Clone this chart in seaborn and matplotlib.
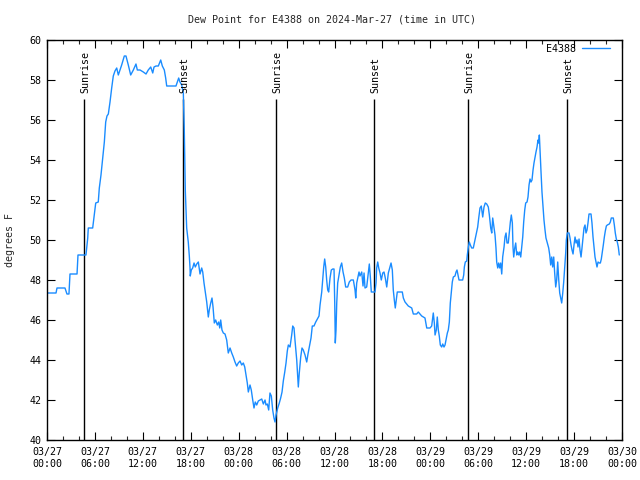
import matplotlib
matplotlib.use("Agg")
import matplotlib.pyplot as plt
import seaborn as sns
import pandas as pd
from matplotlib.ticker import MultipleLocator

# ---- data (hours since 2024-03-27 00:00 UTC, dew point in degrees F) ----
hours = [
    0.00, 1.13, 1.25, 2.25, 2.50, 2.75, 2.88, 3.76, 3.88, 4.88,
    5.10, 5.17, 5.72, 5.92, 6.10, 6.42, 6.55, 6.76, 7.05, 7.18,
    7.35, 7.51, 7.68, 7.89, 8.10, 8.30, 8.51, 8.73, 8.93, 9.35,
    9.68, 9.89, 10.18, 10.48, 10.81, 11.14, 11.31, 11.65, 12.06, 12.40,
    12.68, 12.99, 13.24, 13.40, 13.65, 13.94, 14.24, 14.44, 14.69, 14.86,
    14.99, 16.15, 16.32, 16.49, 16.65, 16.87, 17.07, 17.19, 17.32, 17.49,
    17.69, 17.82, 17.91, 17.94, 18.07, 18.24, 18.41, 18.57, 18.75, 18.95,
    19.16, 19.37, 19.50, 19.66, 19.82, 20.00, 20.20, 20.32, 20.50, 20.66,
    20.79, 20.95, 21.12, 21.33, 21.50, 21.63, 21.75, 21.91, 22.08, 22.29,
    22.50, 22.70, 22.92, 23.13, 23.33, 23.54, 23.75, 23.95, 24.17, 24.38,
    24.58, 24.76, 24.92, 25.08, 25.21, 25.42, 25.58, 25.76, 25.92, 26.08,
    26.26, 26.46, 26.67, 26.89, 27.09, 27.30, 27.42, 27.59, 27.76, 27.92,
    28.09, 28.26, 28.42, 28.55, 28.68, 28.89, 29.09, 29.26, 29.43, 29.59,
    29.77, 29.93, 30.09, 30.22, 30.43, 30.64, 30.77, 30.93, 31.05, 31.27,
    31.47, 31.59, 31.77, 31.93, 32.09, 32.31, 32.52, 32.68, 32.85, 33.06,
    33.22, 33.43, 33.65, 33.85, 34.06, 34.19, 34.40, 34.52, 34.65, 34.77,
    34.90, 35.02, 35.15, 35.27, 35.44, 35.60, 35.78, 35.94, 36.03, 36.10,
    36.19, 36.28, 36.40, 36.56, 36.73, 36.90, 37.07, 37.23, 37.40, 37.65,
    37.85, 38.07, 38.36, 38.57, 38.66, 38.78, 38.91, 39.07, 39.19, 39.41,
    39.57, 39.70, 39.82, 40.03, 40.23, 40.36, 40.48, 40.61, 41.07, 41.20,
    41.28, 41.41, 41.54, 41.70, 41.86, 42.04, 42.20, 42.36, 42.54, 42.74,
    42.95, 43.08, 43.24, 43.36, 43.49, 43.61, 43.74, 43.86, 44.49, 44.62,
    44.83, 45.04, 45.24, 45.45, 45.67, 45.87, 46.29, 46.49, 46.71, 46.92,
    47.33, 47.55, 47.96, 48.17, 48.37, 48.50, 48.59, 48.75, 48.87, 49.00,
    49.12, 49.25, 49.42, 49.55, 49.71, 49.84, 49.96, 50.13, 50.25, 50.38,
    50.50, 50.63, 50.75, 50.88, 51.09, 51.22, 51.34, 51.47, 51.59, 52.05,
    52.18, 52.26, 52.38, 52.56, 52.63, 52.76, 52.88, 53.01, 53.18, 53.38,
    53.51, 53.68, 53.81, 53.93, 54.06, 54.22, 54.38, 54.56, 54.72, 54.88,
    55.06, 55.26, 55.39, 55.56, 55.69, 55.81, 55.97, 56.10, 56.22, 56.31,
    56.44, 56.56, 56.69, 56.81, 56.94, 57.06, 57.23, 57.35, 57.48, 57.60,
    57.76, 57.89, 58.02, 58.14, 58.27, 58.35, 58.44, 58.57, 58.69, 58.82,
    58.94, 59.07, 59.19, 59.32, 59.44, 59.57, 59.69, 59.82, 59.94, 60.11,
    60.23, 60.36, 60.48, 60.61, 60.73, 60.86, 60.98, 61.11, 61.23, 61.36,
    61.48, 61.57, 61.65, 61.73, 61.86, 61.98, 62.11, 62.23, 62.36, 62.48,
    62.65, 62.82, 62.95, 63.07, 63.20, 63.32, 63.45, 63.57, 63.70, 63.82,
    63.95, 64.08, 64.20, 64.33, 64.45, 64.58, 64.70, 64.83, 64.95, 65.03,
    65.15, 65.37, 65.49, 65.62, 65.74, 65.87, 65.99, 66.12, 66.24, 66.37,
    66.49, 66.62, 66.74, 66.87, 66.99, 67.12, 67.24, 67.37, 67.49, 67.62,
    67.74, 67.87, 68.12, 68.24, 68.37, 68.50, 68.62, 68.75, 68.87, 69.00,
    69.16, 69.29, 69.41, 69.54, 69.66, 69.79, 69.91, 70.04, 70.16, 70.41,
    70.54, 70.66, 70.91, 71.04, 71.16, 71.29, 71.41, 71.54, 71.66,
]
dewpoint = [
    47.35, 47.35, 47.6, 47.6, 47.3, 47.3, 48.3, 48.3, 49.25, 49.25,
    50.1, 50.6, 50.6, 51.25, 51.85, 51.9, 52.6, 53.25, 54.4, 54.9,
    55.9, 56.2, 56.3, 56.9, 57.6, 58.2, 58.45, 58.6, 58.25, 58.75,
    59.2, 59.2, 58.75, 58.25, 58.5, 58.8, 58.5, 58.5, 58.4, 58.3,
    58.5, 58.65, 58.35, 58.65, 58.7, 58.7, 59.0, 58.7, 58.5, 58.1,
    57.7, 57.7, 57.9, 58.1, 57.9, 57.75, 57.35, 55.5, 52.45, 50.6,
    49.9, 49.2, 48.6, 48.2, 48.5, 48.6, 48.85, 48.65, 48.8, 48.9,
    48.3, 48.6, 48.4, 47.85, 47.4, 46.9, 46.15, 46.5, 46.85, 47.1,
    46.65, 45.85, 46.0, 45.75, 45.9, 45.6, 46.0, 45.5, 45.35, 45.3,
    45.0, 44.35, 44.6, 44.35, 44.15, 43.9, 43.7, 43.85, 43.95, 43.75,
    43.85, 43.65, 43.25, 42.85, 42.4, 42.75, 42.5, 42.0, 41.6, 41.9,
    41.75, 41.95, 42.0, 42.05, 41.8, 42.0, 41.75, 41.8, 41.5, 42.35,
    42.2, 41.5, 41.1, 40.9, 41.25, 41.6, 41.85, 42.1, 42.4, 42.95,
    43.4, 43.85, 44.45, 44.75, 44.65, 45.25, 45.7, 45.6, 45.0, 44.0,
    42.65, 43.35, 44.15, 44.6, 44.5, 44.25, 43.9, 44.3, 44.65, 45.1,
    45.7, 45.7, 45.9, 46.05, 46.2, 46.75, 47.4, 48.0, 48.65, 49.05,
    48.65, 48.0, 47.5, 47.4, 48.1, 48.5, 48.55, 48.55, 46.85, 44.85,
    45.5, 46.85, 47.85, 48.25, 48.65, 48.85, 48.4, 48.1, 47.65, 47.65,
    47.9, 48.0, 48.0, 47.5, 47.1, 47.85, 48.1, 48.4, 48.2, 48.4,
    47.7, 48.35, 47.6, 47.65, 48.35, 48.8, 48.2, 47.4, 47.4, 47.85,
    48.6, 48.9, 48.6, 48.35, 48.0, 48.35, 48.4, 48.1, 47.65, 48.35,
    48.65, 48.85, 48.5, 47.5, 47.0, 46.6, 47.0, 47.4, 47.4, 47.1,
    46.9, 46.8, 46.7, 46.65, 46.6, 46.3, 46.3, 46.4, 46.3, 46.2,
    46.1, 45.6, 45.6, 45.7, 46.35, 45.85, 45.25, 45.5, 46.15, 45.5,
    45.2, 44.75, 44.65, 44.8, 44.65, 44.75, 45.0, 45.35, 45.5, 45.9,
    46.85, 47.4, 47.9, 48.15, 48.2, 48.4, 48.5, 48.25, 48.0, 48.0,
    48.25, 48.65, 48.9, 48.95, 49.25, 49.65, 49.9, 49.75, 49.6, 49.6,
    49.85, 50.2, 50.4, 50.65, 51.1, 51.6, 51.7, 51.15, 51.65, 51.85,
    51.8, 51.65, 51.25, 50.6, 50.35, 51.1, 50.65, 50.25, 49.6, 48.9,
    48.6, 48.85, 48.6, 48.85, 48.3, 49.15, 49.65, 50.15, 50.35, 49.85,
    49.85, 50.35, 50.9, 51.25, 50.85, 49.65, 49.15, 49.6, 49.85, 49.25,
    49.4, 49.25, 49.4, 49.15, 49.65, 50.15, 50.9, 51.5, 51.85, 51.9,
    52.15, 52.75, 53.05, 52.9, 53.0, 53.5, 53.85, 54.15, 54.4, 54.65,
    55.0, 54.85, 55.25, 54.5, 53.4, 52.4, 51.65, 51.0, 50.5, 50.1,
    49.85, 49.6, 49.25, 48.75, 49.15, 48.65, 49.15, 48.35, 47.65, 48.0,
    48.9, 48.0, 47.35, 47.1, 46.85, 47.35, 47.9, 48.65, 49.35, 50.0,
    50.35, 50.35, 50.1, 49.75, 49.5, 49.3, 49.75, 50.15, 49.85, 50.0,
    49.65, 50.05, 49.5, 49.15, 49.6, 50.15, 50.6, 50.75, 50.35, 50.5,
    50.85, 51.3, 51.3, 50.85, 50.15, 49.6, 49.15, 48.9, 48.65, 48.9,
    48.85, 48.85, 49.05, 49.4, 49.75, 50.15, 50.45, 50.7, 50.75, 50.8,
    50.9, 51.1, 51.1, 50.75, 50.35, 50.05, 49.9, 49.65, 49.25,
]

sun_hours = [4.65, 17.07, 28.68, 41.0, 52.68, 65.08]
sun_labels = ["Sunrise", "Sunset", "Sunrise", "Sunset", "Sunrise", "Sunset"]

tick_hours = list(range(0, 73, 6))
tick_labels = ["03/27\n00:00", "03/27\n06:00", "03/27\n12:00", "03/27\n18:00",
               "03/28\n00:00", "03/28\n06:00", "03/28\n12:00", "03/28\n18:00",
               "03/29\n00:00", "03/29\n06:00", "03/29\n12:00", "03/29\n18:00",
               "03/30\n00:00"]
y_ticks = list(range(40, 61, 2))

station = "E4388"
title = "Dew Point for E4388 on 2024-Mar-27 (time in UTC)"
ylabel = "degrees F"

# ---- plotting ----
sns.set_style("white")
plt.rcParams["font.family"] = ["DejaVu Sans Mono"]
FS = 7.2

fig = plt.figure(figsize=(6.4, 4.8), dpi=100)
ax = fig.add_axes([47 / 640, 40 / 480, 575 / 640, 400 / 480])

df = pd.DataFrame({"hour": hours, "dew": dewpoint, "station": station})
sns.lineplot(data=df, x="hour", y="dew", hue="station", palette=["#1a8cff"],
             linewidth=1.0, ax=ax, estimator=None, sort=False)

ax.set_xlim(0, 72)
ax.set_ylim(40, 60)

for h, lab in zip(sun_hours, sun_labels):
    ax.vlines(h, 40, 57.05, colors="black", linewidth=1.0, zorder=1)
    ax.text(h + 0.15, 57.35, lab, rotation=90, ha="center", va="bottom",
            fontsize=FS, color="black")

ax.set_xticks(tick_hours)
ax.set_xticklabels(tick_labels, fontsize=FS, linespacing=1.2)
ax.xaxis.set_minor_locator(MultipleLocator(2))
ax.set_yticks(y_ticks)
ax.set_yticklabels([str(v) for v in y_ticks], fontsize=FS)
ax.tick_params(axis="both", which="major", direction="in", length=6, width=0.8,
               top=True, right=True, bottom=True, left=True, pad=5, colors="black")
ax.tick_params(axis="x", which="minor", direction="in", length=3, width=0.8,
               top=True, bottom=True)
ax.tick_params(axis="y", which="major", pad=4)
for s in ax.spines.values():
    s.set_color("black")
    s.set_linewidth(1.0)

ax.set_xlabel("")
ax.set_ylabel("")
fig.text(10 / 640, 1 - 240 / 480, ylabel, rotation=90, ha="center", va="center",
         fontsize=FS)
fig.text(332 / 640, 1 - 19 / 480, title, ha="center", va="center", fontsize=FS)

leg = ax.legend(loc="upper right", bbox_to_anchor=(1 - 12 / 575, 1 - 4 / 400),
                frameon=False, markerfirst=False,
                fontsize=FS, handlelength=2.8, handletextpad=0.6,
                borderaxespad=0.0, borderpad=0.0)
for t in leg.get_texts():
    t.set_color("black")

fig.savefig("out.png", dpi=100)
